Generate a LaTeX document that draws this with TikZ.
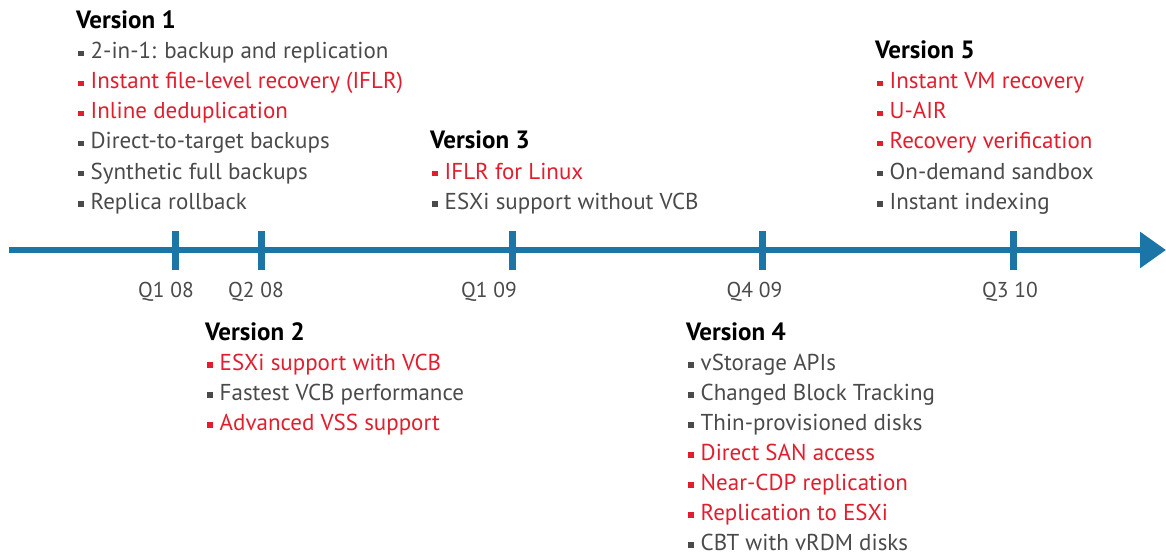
\documentclass[tikz,border=0pt]{standalone}
\usepackage{fontspec}
\setmainfont{PT Sans}
\usetikzlibrary{arrows.meta}
\definecolor{tlblue}{RGB}{27, 117, 166}
\definecolor{tlred}{RGB}{226, 30, 46}
\definecolor{tlgray}{RGB}{74, 74, 74}
\newcommand{\tlsize}{\fontsize{23}{27}\selectfont}
\newcommand{\hdsize}{\fontsize{25}{29}\selectfont}
\newcommand{\bul}{\raisebox{2.5pt}{\rule{5.5pt}{5.5pt}}\hspace{7pt}}

\begin{document}
\begin{tikzpicture}[x=1pt, y=-1pt,
  title/.style={anchor=base west, inner sep=0pt, font=\hdsize\bfseries, text=black},
  item/.style={anchor=base west, inner sep=0pt, font=\tlsize, text=tlgray},
  new/.style={item, text=tlred},
  tick/.style={tlblue, line width=7pt},
  qlabel/.style={anchor=base, inner sep=0pt, font=\fontsize{21.5}{25}\selectfont, text=tlgray}]
\useasboundingbox (0,0) rectangle (1166,556);

% Time axis
\coordinate (start) at (9,250);
\coordinate (end) at (1166,250);
\draw[tlblue, line width=6pt, -{Triangle[length=26pt,width=35pt]}] (start) -- (end);

% Quarters
\foreach \x/\lab/\lx [count=\i] in {175/Q1 08/166, 261/Q2 08/256, 512/Q1 09/489, 762/Q4 09/754.5, 1013/Q3 10/1010}
{
  \draw[tick] (\x,231) -- (\x,270);
  \node[qlabel] (q\i) at (\lx,297) {\lab};
}

% Version 1
\node[title] (v1) at (76,29) {Version 1};
\foreach \txt/\sty [count=\i] in {2-in-1: backup and replication/item, Instant file-level recovery (IFLR)/new, Inline deduplication/new, Direct-to-target backups/item, Synthetic full backups/item, Replica rollback/item}
  \node[\sty] (v1-\i) at (78,29+30*\i) {\bul\txt};

% Version 2
\node[title] (v2) at (205,340) {Version 2};
\foreach \txt/\sty [count=\i] in {ESXi support with VCB/new, Fastest VCB performance/item, Advanced VSS support/new}
  \node[\sty] (v2-\i) at (207,340+30*\i) {\bul\txt};

% Version 3
\node[title] (v3) at (430,149) {Version 3};
\foreach \txt/\sty [count=\i] in {IFLR for Linux/new, ESXi support without VCB/item}
  \node[\sty] (v3-\i) at (432,149+30*\i) {\bul\txt};

% Version 4
\node[title] (v4) at (686,340) {Version 4};
\foreach \txt/\sty [count=\i] in {vStorage APIs/item, Changed Block Tracking/item, Thin-provisioned disks/item, Direct SAN access/new, Near-CDP replication/new, Replication to ESXi/new, CBT with vRDM disks/item}
  \node[\sty] (v4-\i) at (688,340+30*\i) {\bul\txt};

% Version 5
\node[title] (v5) at (875,59) {Version 5};
\foreach \txt/\sty [count=\i] in {Instant VM recovery/new, U-AIR/new, Recovery verification/new, On-demand sandbox/item, Instant indexing/item}
  \node[\sty] (v5-\i) at (877,59+30*\i) {\bul\txt};
\end{tikzpicture}
\end{document}
